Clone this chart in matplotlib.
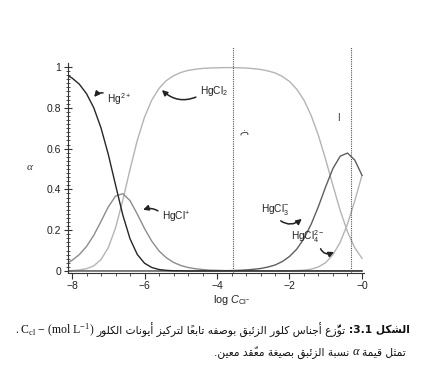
import matplotlib
matplotlib.use('Agg')
import matplotlib.pyplot as plt
import numpy as np
from matplotlib.ticker import MultipleLocator, FixedLocator

plt.rcParams['font.family'] = ['Liberation Sans', 'DejaVu Sans']
plt.rcParams['mathtext.fontset'] = 'custom'
plt.rcParams['mathtext.rm'] = 'Liberation Sans'
plt.rcParams['mathtext.it'] = 'Liberation Sans:italic'
plt.rcParams['mathtext.default'] = 'regular'

# log of chloride concentration
log_c = [-8.1, -8.0, -7.8, -7.6, -7.4, -7.2, -7.0,
         -6.8, -6.6, -6.4, -6.2, -6.0, -5.8, -5.6,
         -5.4, -5.2, -5.0, -4.8, -4.6, -4.4, -4.2,
         -4.0, -3.8, -3.6, -3.4, -3.2, -3.0, -2.8,
         -2.6, -2.4, -2.2, -2.0, -1.8, -1.6, -1.4,
         -1.2, -1.0, -0.8, -0.6, -0.4, -0.2, 0.0]

# fraction alpha of each species
a_hg = [0.957, 0.946, 0.916, 0.869, 0.800, 0.701, 0.572,
        0.422, 0.275, 0.158, 0.081, 0.038, 0.017, 0.007,
        0.003, 0.001, 0.001, 0.0, 0.0, 0.0, 0.0,
        0.0, 0.0, 0.0, 0.0, 0.0, 0.0, 0.0,
        0.0, 0.0, 0.0, 0.0, 0.0, 0.0, 0.0,
        0.0, 0.0, 0.0, 0.0, 0.0, 0.0, 0.0]
a_hgcl = [0.042, 0.052, 0.080, 0.120, 0.175, 0.243, 0.314,
          0.367, 0.379, 0.345, 0.279, 0.208, 0.146, 0.098,
          0.065, 0.042, 0.027, 0.017, 0.011, 0.007, 0.004,
          0.003, 0.002, 0.001, 0.001, 0.0, 0.0, 0.0,
          0.0, 0.0, 0.0, 0.0, 0.0, 0.0, 0.0,
          0.0, 0.0, 0.0, 0.0, 0.0, 0.0, 0.0]
a_hgcl2 = [0.001, 0.002, 0.005, 0.011, 0.025, 0.056, 0.114,
           0.211, 0.346, 0.498, 0.640, 0.754, 0.838, 0.895,
           0.933, 0.957, 0.973, 0.983, 0.989, 0.993, 0.995,
           0.996, 0.997, 0.997, 0.996, 0.995, 0.992, 0.988,
           0.981, 0.971, 0.954, 0.929, 0.891, 0.837, 0.761,
           0.663, 0.545, 0.418, 0.296, 0.192, 0.114, 0.062]
a_hgcl3 = [0.0, 0.0, 0.0, 0.0, 0.0, 0.0, 0.0,
           0.0, 0.0, 0.0, 0.0, 0.0, 0.0, 0.0,
           0.0, 0.0, 0.0, 0.0, 0.0, 0.0003, 0.0005,
           0.001, 0.001, 0.002, 0.003, 0.005, 0.008, 0.012,
           0.019, 0.029, 0.046, 0.071, 0.107, 0.159, 0.230,
           0.317, 0.414, 0.503, 0.563, 0.578, 0.544, 0.469]
a_hgcl4 = [0.0, 0.0, 0.0, 0.0, 0.0, 0.0, 0.0,
           0.0, 0.0, 0.0, 0.0, 0.0, 0.0, 0.0,
           0.0, 0.0, 0.0, 0.0, 0.0, 0.0, 0.0,
           0.0, 0.0, 0.0, 0.0, 0.0, 0.0, 0.0,
           0.0, 0.0, 0.0, 0.001, 0.002, 0.004, 0.009,
           0.020, 0.041, 0.080, 0.141, 0.230, 0.343, 0.469]

marker_lines = [-3.57, -0.31]
x_ticks = [-8, -6, -4, -2, 0]
x_labels = ['\u22128', '\u22126', '\u22124', '\u22122', '\u22120']
y_ticks = [0, 0.2, 0.4, 0.6, 0.8, 1.0]
y_labels = ['0', '0.2', '0.4', '0.6', '0.8', '1']

# --- tiny arabic shaper (matplotlib has no complex text layout) ---
AR_FORMS = {
    'ا': (0xFE8D, 2), 'أ': (0xFE83, 2), 'إ': (0xFE87, 2), 'آ': (0xFE81, 2),
    'ب': (0xFE8F, 4), 'ة': (0xFE93, 2), 'ت': (0xFE95, 4), 'ث': (0xFE99, 4),
    'ج': (0xFE9D, 4), 'ح': (0xFEA1, 4), 'خ': (0xFEA5, 4), 'د': (0xFEA9, 2),
    'ذ': (0xFEAB, 2), 'ر': (0xFEAD, 2), 'ز': (0xFEAF, 2), 'س': (0xFEB1, 4),
    'ش': (0xFEB5, 4), 'ص': (0xFEB9, 4), 'ض': (0xFEBD, 4), 'ط': (0xFEC1, 4),
    'ظ': (0xFEC5, 4), 'ع': (0xFEC9, 4), 'غ': (0xFECD, 4), 'ف': (0xFED1, 4),
    'ق': (0xFED5, 4), 'ك': (0xFED9, 4), 'ل': (0xFEDD, 4), 'م': (0xFEE1, 4),
    'ن': (0xFEE5, 4), 'ه': (0xFEE9, 4), 'و': (0xFEED, 2), 'ى': (0xFEEF, 2),
    'ي': (0xFEF1, 4), 'ئ': (0xFE89, 4), 'ؤ': (0xFE85, 2),
}
LAM_ALEF = {'ا': 0xFEFB, 'أ': 0xFEF7, 'إ': 0xFEF9, 'آ': 0xFEF5}
MARKS = set(chr(c) for c in range(0x064B, 0x0653))


def shape(word):
    letters = []
    for ch in word:
        if ch in MARKS and letters:
            letters[-1][1] += ch
        else:
            letters.append([ch, ''])
    merged = []
    i = 0
    while i < len(letters):
        ch, mk = letters[i]
        if ch == 'ل' and i + 1 < len(letters) and letters[i + 1][0] in LAM_ALEF:
            merged.append(['LA' + letters[i + 1][0], mk + letters[i + 1][1]])
            i += 2
        else:
            merged.append([ch, mk])
            i += 1
    out = []
    for i, (ch, mk) in enumerate(merged):
        prev = merged[i - 1][0] if i > 0 else None
        nxt = merged[i + 1][0] if i + 1 < len(merged) else None
        joins_prev = prev in AR_FORMS and AR_FORMS[prev][1] == 4
        if ch.startswith('LA'):
            g = chr(LAM_ALEF[ch[2]] + (1 if joins_prev else 0))
        elif ch in AR_FORMS:
            base, n = AR_FORMS[ch]
            joins_next = n == 4 and nxt is not None and (nxt in AR_FORMS or nxt.startswith('LA'))
            if joins_prev and joins_next:
                g = chr(base + 3)
            elif joins_prev:
                g = chr(base + 1)
            elif joins_next:
                g = chr(base + 2)
            else:
                g = chr(base)
        else:
            g = ch
        out.append(g + mk)
    return out


def ar(text):
    vis = []
    for w in reversed(text.split(' ')):
        if any(ch in AR_FORMS for ch in w):
            vis.append(''.join(reversed(shape(w))))
        elif w.endswith(':'):
            vis.append(':' + w[:-1])
        else:
            vis.append(w)
    return ' '.join(vis)


W, H = 424, 367
fig = plt.figure(figsize=(W / 100, H / 100), dpi=100)
ax = fig.add_axes([68.4 / W, 94 / H, 295.4 / W, 226.4 / H])

ax.plot(log_c, a_hgcl2, color='#b4b4b4', lw=1.0)
ax.plot(log_c, a_hgcl4, color='#b4b4b4', lw=1.0)
ax.plot(log_c, a_hgcl, color='#8c8c8c', lw=1.0)
ax.plot(log_c, a_hgcl3, color='#5e5e5e', lw=1.0)
ax.plot(log_c, a_hg, color='#262626', lw=1.0)

for xv in marker_lines:
    ax.axvline(xv, color='#555555', lw=0.8, ls=(0, (1, 1)))

ax.set_xlim(-8.1, 0.05)
ax.set_ylim(-0.01, 1.10)
for s in ['top', 'right']:
    ax.spines[s].set_visible(False)
ax.spines['left'].set_bounds(-0.01, 1.02)
ax.spines['left'].set_color('#333333')
ax.spines['bottom'].set_color('#333333')

ax.set_xticks(x_ticks)
ax.set_xticklabels(x_labels)
ax.xaxis.set_minor_locator(MultipleLocator(0.4))
ax.set_yticks(y_ticks)
ax.set_yticklabels(y_labels)
ax.yaxis.set_minor_locator(FixedLocator(np.arange(0, 1.001, 0.02)))
ax.tick_params(axis='x', which='major', direction='out', length=4, width=0.8,
               labelsize=7.5, pad=2, colors='#333333', labelcolor='#222222')
ax.tick_params(axis='x', which='minor', direction='out', length=2.5, width=0.6, colors='#333333')
ax.tick_params(axis='y', which='major', direction='inout', length=6, width=0.8,
               labelsize=7.5, pad=2, colors='#333333', labelcolor='#222222')
ax.tick_params(axis='y', which='minor', direction='inout', length=3, width=0.6, colors='#333333')

fig.text(232 / W, 1 - 300 / H, 'log $\\mathit{C}_{Cl^{-}}$', ha='center', va='center',
         fontsize=7.8, color='#222222')
fig.text(30 / W, 1 - 168 / H, 'α', family='Liberation Serif', style='italic',
         ha='center', va='center', fontsize=8, color='#333333')

arrow_kw = dict(arrowstyle='-|>', mutation_scale=8, color='#222222', lw=1.1,
                shrinkA=1, shrinkB=0)
notes = [
    ('Hg$^{2+}$', (-7.39, 0.853), (-7.03, 0.843), (0.0, 0.8), 0.4),
    ('HgCl$_2$', (-5.52, 0.887), (-4.47, 0.882), (0.0, 0.2), -0.35),
    ('HgCl$^{+}$', (-6.04, 0.30), (-5.52, 0.265), (0.0, 0.7), 0.3),
    ('HgCl$_3^{-}$', (-1.66, 0.255), (-2.79, 0.30), (0.55, 0.0), 0.45),
    ('HgCl$_4^{2-}$', (-0.77, 0.093), (-1.96, 0.17), (0.84, 0.0), 0.6),
]
for label, head, pos, rp, rad in notes:
    ax.annotate(label, xy=head, xytext=pos, ha='left', va='center', fontsize=7.3,
                color='#222222',
                arrowprops=dict(connectionstyle='arc3,rad=%s' % rad, relpos=rp, **arrow_kw))

ax.text(-3.26, 0.676, 'ب', rotation=180, fontsize=7, ha='center', va='center',
        family='DejaVu Sans', color='#333333')
ax.text(-0.66, 0.75, 'ا', fontsize=7, ha='center', va='center',
        family='DejaVu Sans', color='#333333')

# caption, laid out right to left
r = fig.canvas.get_renderer()


def chain(pieces, x_right, y):
    x = x_right
    for s, kw in pieces:
        t = fig.text(x / W, y / H, s, ha='right', va='center', color='#111111', **kw)
        bb = t.get_window_extent(renderer=r)
        x = bb.x0 - 3


ar_kw = dict(family='DejaVu Sans', fontsize=7.7)
chain([
    (ar('الشكل 3.1:'), dict(family='DejaVu Sans', fontsize=7.7, weight='bold')),
    (ar('توزُّع أجناس كلور الزئبق بوصفه تابعاً لتركيز أيونات الكلور'), ar_kw),
    ('. C$_{cl}$ \u2212 (mol L$^{-1}$)', dict(family='Liberation Serif', fontsize=8.5)),
], 410, H - 330)
chain([
    (ar('تمثل قيمة'), ar_kw),
    ('α', dict(family='Liberation Serif', style='italic', fontsize=9)),
    (ar('نسبة الزئبق بصيغة معقّد معين.'), ar_kw),
], 406, H - 352)

fig.savefig('out.png', dpi=100)
